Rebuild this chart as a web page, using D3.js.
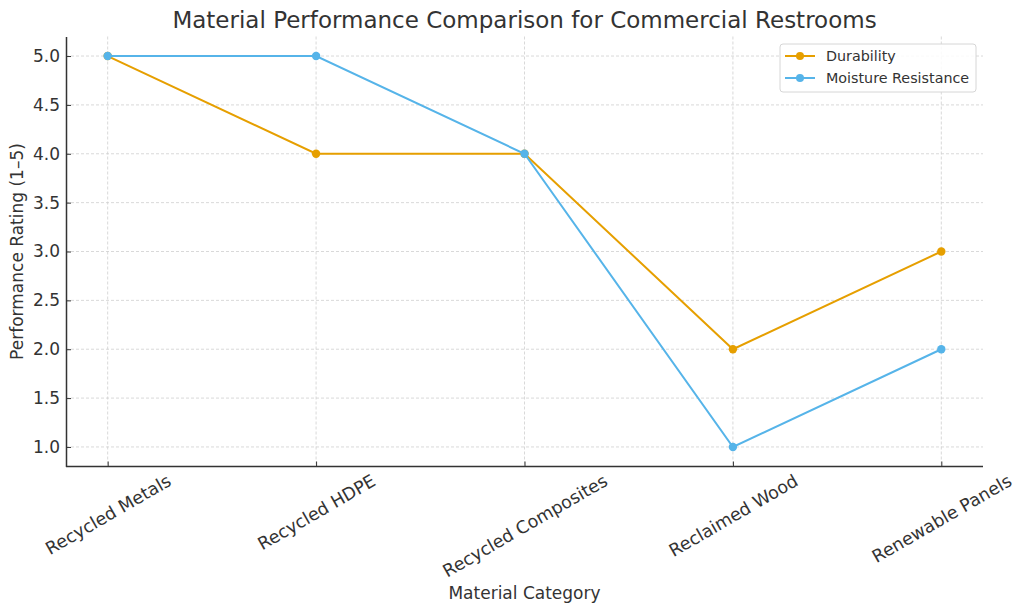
<!DOCTYPE html>
<html>
<head>
<meta charset="utf-8">
<script src="https://cdn.jsdelivr.net/npm/d3@7"></script>
<style>
  body { margin: 0; background: #fff; }
  text { font-family: "DejaVu Sans", sans-serif; fill: #333; }
</style>
</head>
<body>
<svg id="chart"></svg>
<script>
var categories = ["Recycled Metals", "Recycled HDPE", "Recycled Composites", "Reclaimed Wood", "Renewable Panels"];
var durability = [5, 4, 4, 2, 3];
var moisture = [5, 5, 4, 1, 2];
var yTicks = [1.0, 1.5, 2.0, 2.5, 3.0, 3.5, 4.0, 4.5, 5.0];

var svgWidth = 1024, svgHeight = 613;
var plotLeft = 66, plotRight = 983, plotTop = 36.5, plotBottom = 466.5;

var svg = d3.select("#chart")
    .attr("width", svgWidth)
    .attr("height", svgHeight);

var xScale = d3.scaleLinear()
    .domain([-0.2, categories.length - 1 + 0.2])
    .range([plotLeft, plotRight]);

var yScale = d3.scaleLinear()
    .domain([0.8, 5.2])
    .range([plotBottom, plotTop]);

// grid
svg.append("g").selectAll("line")
    .data(yTicks)
    .enter()
    .append("line")
    .attr("x1", plotLeft).attr("x2", plotRight)
    .attr("y1", function (d) { return yScale(d); })
    .attr("y2", function (d) { return yScale(d); })
    .attr("stroke", "#cfcfcf")
    .attr("stroke-width", 0.8)
    .attr("stroke-dasharray", "3,2");

svg.append("g").selectAll("line")
    .data(categories)
    .enter()
    .append("line")
    .attr("x1", function (d, i) { return xScale(i); })
    .attr("x2", function (d, i) { return xScale(i); })
    .attr("y1", plotTop).attr("y2", plotBottom)
    .attr("stroke", "#cfcfcf")
    .attr("stroke-width", 0.8)
    .attr("stroke-dasharray", "3,2");

// axes
var y_axis = d3.axisLeft(yScale)
    .tickValues(yTicks)
    .tickFormat(d3.format(".1f"))
    .tickSizeInner(-5)
    .tickSizeOuter(0)
    .tickPadding(6);

var yg = svg.append("g")
    .attr("transform", "translate(" + plotLeft + ",0)")
    .call(y_axis);
yg.select(".domain").attr("stroke", "#333").attr("stroke-width", 1.5);
yg.selectAll(".tick line").attr("stroke", "#333");
yg.selectAll(".tick text").style("font-size", "17px").style("font-family", "DejaVu Sans").attr("fill", "#333");

var x_axis = d3.axisBottom(xScale)
    .tickValues(d3.range(categories.length))
    .tickFormat(function (d) { return categories[d]; })
    .tickSizeInner(-5)
    .tickSizeOuter(0);

var xg = svg.append("g")
    .attr("transform", "translate(0," + plotBottom + ")")
    .call(x_axis);
xg.select(".domain").attr("stroke", "#333").attr("stroke-width", 1.5)
    .attr("d", "M" + plotLeft + ",0H" + plotRight);
xg.selectAll(".tick line").attr("stroke", "#333");
xg.selectAll(".tick text")
    .style("font-size", "17.5px")
    .style("font-family", "DejaVu Sans")
    .attr("fill", "#333")
    .attr("text-anchor", "middle")
    .attr("dy", "0.35em")
    .each(function () {
        var w = this.getComputedTextLength();
        var h = 20;
        var cy = 4 + (w * 0.5 + h * 0.866) / 2;
        d3.select(this).attr("y", 0)
            .attr("transform", "translate(0," + cy + ") rotate(-30)");
    });

// lines
var series = [
    { name: "Durability", values: durability, color: "#E69F00" },
    { name: "Moisture Resistance", values: moisture, color: "#56B4E9" }
];

var line = d3.line()
    .x(function (d, i) { return xScale(i); })
    .y(function (d) { return yScale(d); });

series.forEach(function (s) {
    svg.append("path")
        .datum(s.values)
        .attr("d", line)
        .attr("fill", "none")
        .attr("stroke", s.color)
        .attr("stroke-width", 2);
    svg.append("g").selectAll("circle")
        .data(s.values)
        .enter()
        .append("circle")
        .attr("cx", function (d, i) { return xScale(i); })
        .attr("cy", function (d) { return yScale(d); })
        .attr("r", 4.2)
        .attr("fill", s.color);
});

// title and labels
svg.append("text")
    .attr("x", (plotLeft + plotRight) / 2)
    .attr("y", 28)
    .attr("text-anchor", "middle")
    .style("font-size", "23px")
    .text("Material Performance Comparison for Commercial Restrooms");

svg.append("text")
    .attr("x", (plotLeft + plotRight) / 2)
    .attr("y", 599)
    .attr("text-anchor", "middle")
    .style("font-size", "17px")
    .text("Material Category");

svg.append("text")
    .attr("transform", "translate(23," + ((plotTop + plotBottom) / 2) + ") rotate(-90)")
    .attr("text-anchor", "middle")
    .style("font-size", "17px")
    .text("Performance Rating (1\u20135)");

// legend
var legend = svg.append("g").attr("transform", "translate(780,44)");
legend.append("rect")
    .attr("x", 0).attr("y", 0)
    .attr("width", 196).attr("height", 48)
    .attr("rx", 3)
    .attr("fill", "#fff")
    .attr("fill-opacity", 0.85)
    .attr("stroke", "#d6d6d6");

series.forEach(function (s, i) {
    var yy = 12 + i * 22;
    legend.append("line")
        .attr("x1", 5).attr("x2", 35)
        .attr("y1", yy).attr("y2", yy)
        .attr("stroke", s.color)
        .attr("stroke-width", 2);
    legend.append("circle")
        .attr("cx", 20).attr("cy", yy).attr("r", 4)
        .attr("fill", s.color);
    legend.append("text")
        .attr("x", 46).attr("y", yy)
        .attr("dy", "0.35em")
        .style("font-size", "14.3px")
        .text(s.name);
});
</script>
</body>
</html>
